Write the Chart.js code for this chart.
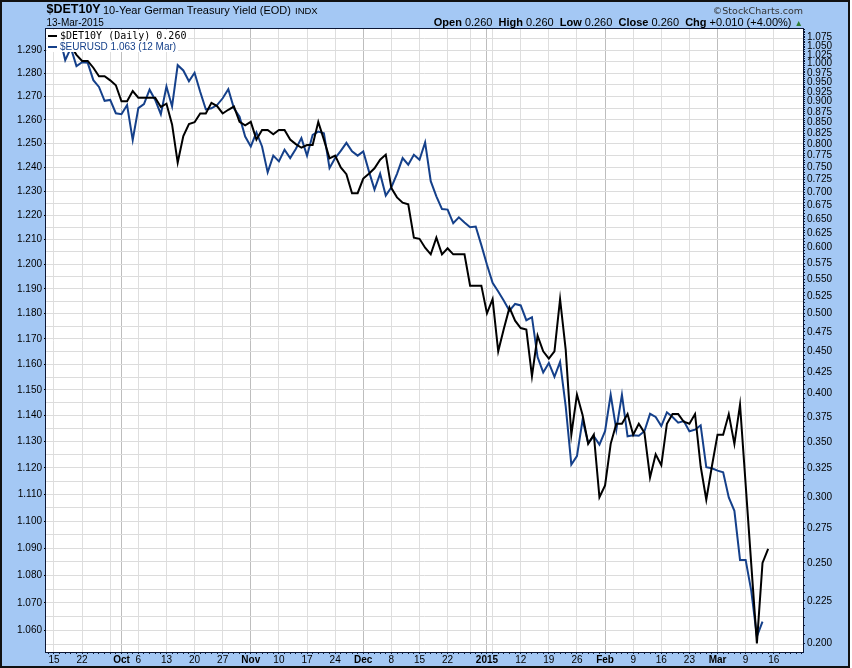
<!DOCTYPE html>
<html>
<head>
<meta charset="utf-8">
<script src="https://cdn.jsdelivr.net/npm/chart.js@4.4.1/dist/chart.umd.min.js"></script>
<style>
html,body{margin:0;padding:0;background:#fff;}
#wrap{position:relative;width:852px;height:668px;overflow:hidden;}
#bg{position:absolute;left:0;top:0;width:850px;height:668px;background:#a4c8f4;}
#c{position:absolute;left:0;top:0;}
#frame{position:absolute;left:0;top:0;width:850px;height:668px;box-sizing:border-box;border:2px solid #111;pointer-events:none;}
.txt{position:absolute;white-space:nowrap;line-height:1;font-family:"Liberation Sans",Arial,sans-serif;color:#000;}
.leg{position:absolute;left:47px;top:30px;}
.row{display:flex;align-items:center;height:11px;background:#fff;width:fit-content;padding-right:2px;}
.mk{display:inline-block;width:9px;height:2px;margin:0 3px 0 1px;}
</style>
</head>
<body>
<div id="wrap">
  <div id="bg"></div>
  <canvas id="c" width="852" height="668"></canvas>
  <div class="txt" style="left:46.5px;top:3.2px;font-size:12.5px;font-weight:bold;">$DET10Y</div>
  <div class="txt" style="left:103px;top:4.7px;font-size:11px;">10-Year German Treasury Yield (EOD)</div>
  <div class="txt" style="left:295px;top:6px;font-size:9.5px;">INDX</div>
  <div class="txt" style="left:46.5px;top:18.2px;font-size:10px;">13-Mar-2015</div>
  <div class="txt" style="right:49px;top:6px;font-size:9.5px;font-family:'DejaVu Sans',sans-serif;color:#333;">&copy;StockCharts.com</div>
  <div class="txt" style="right:49px;top:17.4px;font-size:11px;"><b>Open</b> 0.260&nbsp; <b>High</b> 0.260&nbsp; <b>Low</b> 0.260&nbsp; <b>Close</b> 0.260&nbsp; <b>Chg</b> +0.010 (+4.00%) <span style="color:#2e7d32;font-size:8.5px;">&#9650;</span></div>
  <div class="leg">
    <div class="row"><span class="mk" style="background:#000"></span><span style="font-family:'DejaVu Sans Mono',monospace;font-size:10px;color:#000;">$DET10Y (Daily) 0.260</span></div>
    <div class="row"><span class="mk" style="background:#15408a"></span><span style="font-family:'Liberation Sans',Arial,sans-serif;font-size:10px;color:#15408a;">$EURUSD 1.063 (12 Mar)</span></div>
  </div>
  <div id="frame"></div>
</div>
<script>
// Trading-day index 0 = 15 Sep 2014 (weekdays, 25 Dec and 1 Jan skipped); 127 = 13 Mar 2015
const det10y = [
  1.060,1.045,1.070,1.050,1.025, 1.008,1.008,0.989,0.966,0.966,
  0.955,0.942,0.901,0.901,0.927, 0.910,0.910,0.910,0.910,0.887,
  0.895,0.845,0.760,0.818,0.846, 0.850,0.871,0.871,0.897,0.889,
  0.871,0.880,0.888,0.851,0.843, 0.851,0.810,0.832,0.832,0.822,
  0.832,0.832,0.810,0.800,0.792, 0.798,0.798,0.851,0.810,0.769,
  0.775,0.750,0.736,0.698,0.698, 0.727,0.737,0.748,0.766,0.777,
  0.708,0.690,0.680,0.677,0.617, 0.615,0.600,0.589,0.617,0.589,
  0.599,0.589,0.589,0.589,0.540, 0.540,0.540,0.500,0.520,0.450,
  0.479,0.508,0.490,0.480,0.478, 0.420,0.470,0.450,0.441,0.450,
  0.520,0.452,0.357,0.399,0.377, 0.348,0.357,0.300,0.310,0.348,
  0.368,0.368,0.378,0.357,0.368, 0.359,0.317,0.338,0.328,0.368,
  0.378,0.378,0.370,0.368,0.378, 0.327,0.298,0.327,0.357,0.357,
  0.378,0.348,0.388,0.311,0.249, 0.200,0.250,0.260
];
const eurusd = [
  1.2950,1.2960,1.2857,1.2910,1.2831, 1.2848,1.2845,1.2770,1.2741,1.2681,
  1.2685,1.2628,1.2624,1.2663,1.2514, 1.2650,1.2667,1.2729,1.2685,1.2624,
  1.2743,1.2657,1.2835,1.2812,1.2765, 1.2802,1.2720,1.2645,1.2649,1.2663,
  1.2692,1.2731,1.2649,1.2613,1.2529, 1.2487,1.2546,1.2487,1.2378,1.2448,
  1.2424,1.2473,1.2438,1.2476,1.2522, 1.2448,1.2536,1.2550,1.2543,1.2396,
  1.2438,1.2468,1.2502,1.2466,1.2448, 1.2466,1.2383,1.2306,1.2372,1.2281,
  1.2316,1.2372,1.2438,1.2410,1.2452, 1.2431,1.2504,1.2341,1.2278,1.2225,
  1.2223,1.2167,1.2191,1.2170,1.2150, 1.2153,1.2077,1.1997,1.1924,1.1889,
  1.1852,1.1812,1.1839,1.1833,1.1774, 1.1786,1.1628,1.1568,1.1605,1.1551,
  1.1609,1.1436,1.1213,1.1245,1.1384, 1.1295,1.1321,1.1289,1.1340,1.1481,
  1.1346,1.1481,1.1321,1.1325,1.1323, 1.1340,1.1407,1.1395,1.1360,1.1413,
  1.1395,1.1373,1.1379,1.1340,1.1346, 1.1363,1.1203,1.1199,1.1190,1.1184,
  1.1089,1.1039,1.0857,1.0857,1.0744, 1.0580,1.0633
];
// x-axis tick labels (trading-day index -> text)
const labelIdx  = [0,5,12,15,20,25,30,35,40,45,50,55,60,65,70,77,83,88,93,98,103,108,113,118,123,128];
const labelText = ['15','22','Oct','6','13','20','27','Nov','10','17','24','Dec','8','15','22','2015','12','19','26','Feb','9','16','23','Mar','9','16'];
const monthIdx  = [12,35,55,77,98,118];
const weekIdx   = [0,5,10,15,20,25,30,35,40,45,50,55,60,65,70,74,78,83,88,93,98,103,108,113,118,123,128];
// y tick values (thousandths)
const leftTicks  = []; for (let k = 1055; k <= 1295; k += 5) leftTicks.push(k);
const rightTicks = []; for (let k = 200; k <= 1100; k += 5) rightTicks.push(k);

const FONT = "'Liberation Sans', Arial, sans-serif";
const AXIS = '#0b1633';

const bgPlugin = {
  id: 'bgPlugin',
  beforeDraw(chart) {
    const {ctx, chartArea: a} = chart;
    ctx.save();
    ctx.fillStyle = '#ffffff';
    ctx.fillRect(a.left, a.top, a.right - a.left, a.bottom - a.top);
    ctx.restore();
  },
  afterDraw(chart) {
    const {ctx, chartArea: a} = chart;
    ctx.save();
    ctx.strokeStyle = AXIS;
    ctx.lineWidth = 1;
    ctx.strokeRect(a.left - 0.5, a.top - 0.5, a.right - a.left + 1, a.bottom - a.top + 1);
    ctx.restore();
  }
};

new Chart(document.getElementById('c'), {
  type: 'line',
  data: {
    datasets: [
      {
        label: '$DET10Y',
        data: det10y.map((v, i) => ({x: i, y: v})),
        yAxisID: 'yR',
        borderColor: '#000000',
        borderWidth: 2,
        pointRadius: 0,
        tension: 0,
        fill: false
      },
      {
        label: '$EURUSD',
        data: eurusd.map((v, i) => ({x: i, y: v})),
        yAxisID: 'yL',
        borderColor: '#15408a',
        borderWidth: 2,
        pointRadius: 0,
        tension: 0,
        fill: false
      }
    ]
  },
  options: {
    responsive: false,
    animation: false,
    events: [],
    layout: {padding: {top: 29, left: 0, right: 0, bottom: 0}},
    plugins: {legend: {display: false}, tooltip: {enabled: false}},
    scales: {
      x: {
        type: 'linear',
        min: -1.42,
        max: 133.2,
        afterBuildTicks: s => { s.ticks = []; for (let i = -1; i <= 133; i++) s.ticks.push({value: i}); },
        afterFit: s => { s.height = 16; },
        border: {display: false},
        grid: {
          drawOnChartArea: true,
          drawTicks: true,
          tickLength: 2,
          color: c => monthIdx.includes(c.tick.value) ? '#bdbdbd' : (weekIdx.includes(c.tick.value) ? '#dedede' : 'rgba(0,0,0,0)'),
          tickColor: AXIS,
          lineWidth: 1
        },
        ticks: {
          autoSkip: false,
          maxRotation: 0,
          minRotation: 0,
          padding: 0,
          color: '#000',
          font: c => ({family: FONT, size: 10, weight: monthIdx.includes(c.tick && c.tick.value) ? 'bold' : 'normal'}),
          callback: v => { const k = labelIdx.indexOf(v); return k >= 0 ? labelText[k] : ''; }
        }
      },
      yL: {
        type: 'logarithmic',
        position: 'left',
        min: 1.0524,
        max: 1.2993,
        afterBuildTicks: s => { s.ticks = leftTicks.map(k => ({value: k / 1000})); },
        afterFit: s => { s.width = 46; },
        border: {display: false},
        grid: {
          color: '#dcdcdc',
          tickLength: 2,
          tickColor: c => (Math.round(c.tick.value * 1000) % 10 === 0) ? '#000' : 'rgba(0,0,0,0)'
        },
        ticks: {
          autoSkip: false,
          padding: 2,
          color: '#000',
          font: {family: FONT, size: 10},
          callback: v => (Math.round(v * 1000) % 10 === 0) ? v.toFixed(3) : ''
        }
      },
      yR: {
        type: 'logarithmic',
        position: 'right',
        min: 0.19523,
        max: 1.1013,
        afterBuildTicks: s => { s.ticks = rightTicks.map(k => ({value: k / 1000})); },
        afterFit: s => { s.width = 49; },
        border: {display: false},
        grid: {
          drawOnChartArea: false,
          tickLength: 2,
          tickColor: AXIS
        },
        ticks: {
          autoSkip: false,
          padding: 2,
          color: '#000',
          font: {family: FONT, size: 10},
          callback: v => { const k = Math.round(v * 1000); return (k % 25 === 0 && k <= 1075) ? v.toFixed(3) : ''; }
        }
      }
    }
  },
  plugins: [bgPlugin]
});
</script>
</body>
</html>
